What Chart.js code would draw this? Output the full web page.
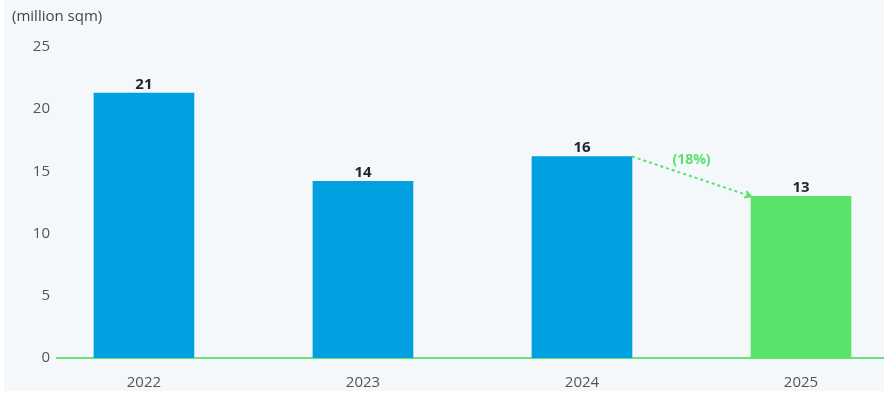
<!DOCTYPE html>
<html>
<head>
<meta charset="utf-8">
<script src="https://cdn.jsdelivr.net/npm/chart.js@4"></script>
<style>
  html, body { margin: 0; padding: 0; background: #ffffff; }
  #wrap { position: absolute; left: 4px; top: 0; width: 880px; height: 391px; background: #f4f8fa; }
</style>
</head>
<body>
<div id="wrap"><canvas id="grafico" width="880" height="391"></canvas></div>
<script>
const categories = ["2022", "2023", "2024", "2025"];
const values = [21.3, 14.2, 16.2, 13.0];
const barColors = ["#00a0e1", "#00a0e1", "#00a0e1", "#58e36a"];
const yTicks = [0, 5, 10, 15, 20, 25];
const unitLabel = "(million sqm)";
const changeLabel = "(18%)";

const FONT = "'Open Sans', 'Noto Sans', sans-serif";

// labels above bars, unit title, dotted arrow 2024 -> 2025
const extras = {
  id: "extras",
  afterDatasetsDraw(chart) {
    const ctx = chart.ctx;
    const bars = chart.getDatasetMeta(0).data;
    ctx.save();
    ctx.font = "bold 15px " + FONT;
    ctx.fillStyle = "#1c2630";
    ctx.textAlign = "center";
    ctx.textBaseline = "bottom";
    bars.forEach((b, i) => {
      ctx.fillText(String(Math.round(values[i])), b.x, b.y - 1);
    });

    ctx.font = "15px " + FONT;
    ctx.fillStyle = "#444";
    ctx.textAlign = "left";
    ctx.textBaseline = "middle";
    ctx.fillText(unitLabel, 8, 17);

    // arrow
    const a = bars[2], c = bars[3];
    const x1 = a.x + a.width / 2, y1 = a.y;
    const x2 = c.x - c.width / 2, y2 = c.y;
    ctx.strokeStyle = "#58e36a";
    ctx.lineWidth = 2;
    ctx.setLineDash([3, 3]);
    ctx.beginPath();
    ctx.moveTo(x1, y1);
    ctx.lineTo(x2, y2);
    ctx.stroke();
    ctx.setLineDash([]);
    const ang = Math.atan2(y2 - y1, x2 - x1);
    ctx.beginPath();
    ctx.moveTo(x2 - 7 * Math.cos(ang - 0.5), y2 - 7 * Math.sin(ang - 0.5));
    ctx.lineTo(x2, y2);
    ctx.lineTo(x2 - 7 * Math.cos(ang + 0.5), y2 - 7 * Math.sin(ang + 0.5));
    ctx.stroke();

    ctx.font = "bold 14px " + FONT;
    ctx.fillStyle = "#58e36a";
    ctx.textAlign = "center";
    ctx.textBaseline = "middle";
    ctx.fillText(changeLabel, (x1 + x2) / 2, (y1 + y2) / 2 - 16);
    ctx.restore();
  }
};

new Chart(document.getElementById("grafico"), {
  type: "bar",
  data: {
    datasets: [{
      data: categories.map((c, i) => ({ x: i, y: values[i] })),
      backgroundColor: barColors,
      barThickness: 100
    }]
  },
  options: {
    responsive: false,
    animation: false,
    events: [],
    layout: { padding: { top: 47, right: 0, left: 0, bottom: 0 } },
    plugins: { legend: { display: false }, tooltip: { enabled: false } },
    scales: {
      x: {
        type: "linear",
        offset: false,
        min: -0.397,
        max: 3.379,
        afterBuildTicks: s => { s.ticks = categories.map((c, i) => ({ value: i })); },
        afterFit: s => { s.height = 33; },
        ticks: {
          autoSkip: false,
          maxRotation: 0,
          padding: 16,
          color: "#555",
          font: { family: FONT, size: 15 },
          callback: v => categories[v] ?? ""
        },
        grid: { offset: false, drawOnChartArea: false, drawTicks: false, tickLength: 0 },
        border: { display: true, color: "#6ee27a", width: 2 }
      },
      y: {
        min: 0,
        max: 25,
        afterBuildTicks: s => { s.ticks = yTicks.map(v => ({ value: v })); },
        afterFit: s => { s.width = 53; },
        ticks: {
          padding: 7,
          color: "#555",
          font: { family: FONT, size: 15 }
        },
        grid: { display: false, drawTicks: false, tickLength: 0 },
        border: { display: false }
      }
    }
  },
  plugins: [extras]
});
</script>
</body>
</html>
